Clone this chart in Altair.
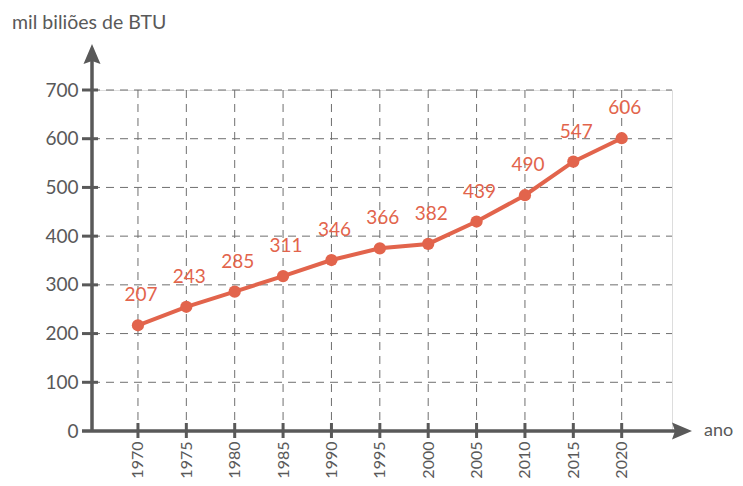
import altair as alt
import pandas as pd

years = [1970, 1975, 1980, 1985, 1990, 1995, 2000, 2005, 2010, 2015, 2020]
values = [217, 255, 286, 318, 351, 375, 384, 430, 484, 553, 601]
# printed labels
labels = ["207", "243", "285", "311", "346", "366", "382", "439", "490", "547", "606"]
y_ticks = [0, 100, 200, 300, 400, 500, 600, 700]

FONT = "Lato"
GRAY = "#595959"
RED = "#E2644C"
W, H = 580, 341

df = pd.DataFrame({"year": years, "value": values, "label": labels})
xs = alt.Scale(domain=[1965.25, 2025.2], nice=False, zero=False)
ys = alt.Scale(domain=[0, 700], nice=False)

base = alt.Chart(df)

grid_x = alt.Chart(pd.DataFrame({"year": years})).mark_rule(
    color="#6f6f6f", strokeWidth=1, strokeDash=[8, 6]
).encode(
    x=alt.X("year:Q", scale=xs, axis=alt.Axis(
        values=years, format="d", labelAngle=-90, labelPadding=10, ticks=False,
        domain=False, grid=False, title=None, labelFont=FONT, labelFontSize=16,
        labelColor=GRAY)),
    y=alt.value(0), y2=alt.value(H),
)
grid_y = alt.Chart(pd.DataFrame({"v": y_ticks[1:]})).mark_rule(
    color="#6f6f6f", strokeWidth=1, strokeDash=[8, 6]
).encode(
    y=alt.Y("v:Q", scale=ys, axis=alt.Axis(
        values=y_ticks, labelPadding=14, ticks=False, domain=False, grid=False,
        title=None, labelFont=FONT, labelFontSize=19, labelColor=GRAY)),
    x=alt.value(0), x2=alt.value(W),
)

y_axis_line = alt.Chart(pd.DataFrame({"a": [0]})).mark_rule(
    color=GRAY, strokeWidth=3.5).encode(x=alt.value(0), y=alt.value(H + 1), y2=alt.value(-30))
x_axis_line = alt.Chart(pd.DataFrame({"a": [0]})).mark_rule(
    color=GRAY, strokeWidth=3.5).encode(x=alt.value(-10), x2=alt.value(585), y=alt.value(H))

y_tick_marks = alt.Chart(pd.DataFrame({"v": y_ticks[1:]})).mark_rule(
    color=GRAY, strokeWidth=3).encode(y=alt.Y("v:Q", scale=ys), x=alt.value(-10), x2=alt.value(6))
x_tick_marks = alt.Chart(pd.DataFrame({"year": years})).mark_rule(
    color=GRAY, strokeWidth=3).encode(x=alt.X("year:Q", scale=xs), y=alt.value(H - 8), y2=alt.value(H + 7))

up_arrow = alt.Chart(pd.DataFrame({"a": [0]})).mark_point(
    shape="M0,-1 L0.85,1 L0,0.7 L-0.85,1 Z", filled=True, color=GRAY, opacity=1, size=400
).encode(x=alt.value(0), y=alt.value(-36))
right_arrow = alt.Chart(pd.DataFrame({"a": [0]})).mark_point(
    shape="M1,0 L-1,-0.85 L-0.7,0 L-1,0.85 Z", filled=True, color=GRAY, opacity=1, size=400
).encode(x=alt.value(590), y=alt.value(H))

line = base.mark_line(color=RED, strokeWidth=4).encode(
    x=alt.X("year:Q", scale=xs), y=alt.Y("value:Q", scale=ys))
points = base.mark_circle(color=RED, size=150, opacity=1).encode(
    x=alt.X("year:Q", scale=xs), y=alt.Y("value:Q", scale=ys))
texts = base.mark_text(color=RED, font=FONT, fontSize=19, dy=-30, dx=3).encode(
    x=alt.X("year:Q", scale=xs), y=alt.Y("value:Q", scale=ys), text="label:N")

title = alt.Chart(pd.DataFrame({"t": ["mil biliões de BTU"]})).mark_text(
    align="left", baseline="middle", font=FONT, fontSize=19.5, color=GRAY
).encode(x=alt.value(-80), y=alt.value(-67), text="t:N")
xlab = alt.Chart(pd.DataFrame({"t": ["ano"]})).mark_text(
    align="left", baseline="middle", font=FONT, fontSize=18, color=GRAY
).encode(x=alt.value(612), y=alt.value(H), text="t:N")

chart = alt.layer(
    grid_x, grid_y, y_axis_line, x_axis_line, y_tick_marks, x_tick_marks,
    up_arrow, right_arrow, line, points, texts, title, xlab
).properties(
    width=W, height=H,
    autosize=alt.AutoSizeParams(type="none"),
    padding={"left": 84, "top": 82, "right": 63, "bottom": 47},
).configure_view(stroke=None).configure(background="white")

chart.save("out.html", embed_options={"renderer": "svg", "actions": False})
